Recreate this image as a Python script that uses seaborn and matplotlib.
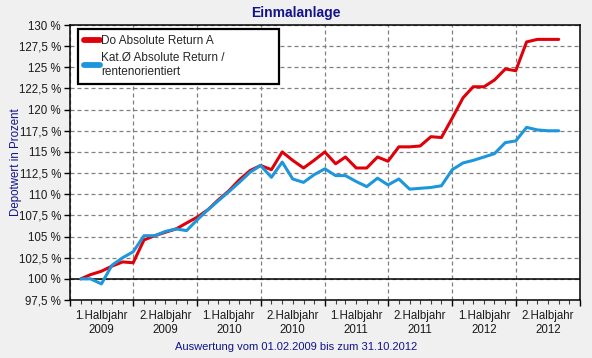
import numpy as np
import pandas as pd
import matplotlib
matplotlib.use("Agg")
import matplotlib.pyplot as plt
import matplotlib.dates as mdates
from matplotlib.ticker import FuncFormatter, FixedLocator
import seaborn as sns

# ---- data -------------------------------------------------------------
start_date = "2009-02-01"
series_names = ["Do Absolute Return A", "Kat.\u00d8 Absolute Return /\nrentenorientiert"]
fund_values = [100.0, 100.5, 100.9, 101.5, 102.0, 101.9, 104.6, 105.1, 105.5, 105.9,
               106.6, 107.3, 108.2, 109.3, 110.4, 111.7, 112.8, 113.4, 112.9, 115.0,
               114.0, 113.1, 114.0, 115.0, 113.6, 114.4, 113.1, 113.1, 114.4, 113.9,
               115.6, 115.6, 115.7, 116.8, 116.7, 119.0, 121.4, 122.7, 122.7, 123.5,
               124.8, 124.6, 128.0, 128.3, 128.3, 128.3]
category_values = [100.0, 100.0, 99.4, 101.6, 102.5, 103.2, 105.1, 105.1, 105.6, 105.9,
                   105.7, 107.0, 108.2, 109.2, 110.3, 111.4, 112.6, 113.4, 112.0, 113.8,
                   111.8, 111.4, 112.3, 113.0, 112.2, 112.2, 111.5, 110.9, 111.9, 111.1,
                   111.8, 110.6, 110.7, 110.8, 111.0, 112.9, 113.7, 114.0, 114.4, 114.8,
                   116.1, 116.3, 117.9, 117.6, 117.5, 117.5]
y_ticks = [97.5, 100, 102.5, 105, 107.5, 110, 112.5, 115, 117.5, 120, 122.5, 125, 127.5, 130]
half_year_labels = ["1.Halbjahr\n2009", "2.Halbjahr\n2009", "1.Halbjahr\n2010", "2.Halbjahr\n2010",
                    "1.Halbjahr\n2011", "2.Halbjahr\n2011", "1.Halbjahr\n2012", "2.Halbjahr\n2012"]
title = "Einmalanlage"
y_label = "Depotwert in Prozent"
x_label = "Auswertung vom 01.02.2009 bis zum 31.10.2012"

dates = pd.date_range(start_date, periods=len(fund_values), freq="MS")
df = pd.DataFrame({
    "Datum": list(dates) * 2,
    "Wert": fund_values + category_values,
    "Serie": [series_names[0]] * len(fund_values) + [series_names[1]] * len(category_values),
})

# ---- style ------------------------------------------------------------
sns.set_theme(style="white")
plt.rcParams["font.family"] = ["Liberation Sans", "DejaVu Sans"]
bg = "#F0F0F0"
navy = "#12128C"
red = "#E0000A"
blue = "#1E96DC"

fig = plt.figure(figsize=(5.92, 3.58), dpi=100, facecolor=bg)
ax = fig.add_axes([70 / 592, 1 - 300 / 358, 510 / 592, 275 / 358])
ax.set_facecolor("white")

sns.lineplot(data=df, x="Datum", y="Wert", hue="Serie", palette=[red, blue],
             linewidth=2.2, ax=ax, legend=True, zorder=3)

ax.axhline(100, color="black", linewidth=1.1, zorder=2)

x0 = pd.Timestamp("2009-01-01")
x1 = pd.Timestamp("2013-01-01")
ax.set_xlim(x0, x1)
ax.set_ylim(97.5, 130)

# y axis
ax.yaxis.set_major_locator(FixedLocator(y_ticks))
ax.yaxis.set_major_formatter(FuncFormatter(
    lambda v, p: (f"{v:.1f}".replace(".", ",") if abs(v - round(v)) > 1e-6 else f"{int(round(v))}") + " %"))

# x axis: half-year boundaries (major) and months (minor)
bounds = pd.date_range(x0, x1, freq="6MS")
ax.xaxis.set_major_locator(FixedLocator(mdates.date2num(bounds)))
ax.xaxis.set_major_formatter(FuncFormatter(lambda v, p: ""))
mids = pd.date_range("2009-04-01", periods=len(half_year_labels), freq="6MS")
mid_nums = mdates.date2num(mids)
months = mdates.date2num(pd.date_range(x0, x1, freq="MS"))
ax.xaxis.set_minor_locator(FixedLocator(months))

def minor_fmt(v, p):
    for n, lab in zip(mid_nums, half_year_labels):
        if abs(v - n) < 1:
            return lab
    return ""
ax.xaxis.set_minor_formatter(FuncFormatter(minor_fmt))

ax.grid(True, which="major", color="#808080", linestyle=(0, (3.2, 2.4)), linewidth=0.9, zorder=1)
ax.tick_params(axis="both", which="major", direction="out", length=4.5, width=1, color="black",
               labelsize=8.3, labelcolor="#1a1a1a", bottom=True, left=True)
ax.tick_params(axis="x", which="minor", direction="out", length=3, width=0.8, color="#404040",
               labelsize=8.3, labelcolor="#1a1a1a", pad=4, bottom=True)
ax.tick_params(axis="y", which="major", pad=2)
for lab in ax.xaxis.get_minorticklabels():
    lab.set_linespacing(1.3)

for s in ax.spines.values():
    s.set_color("black")
    s.set_linewidth(1.1)
    s.set_visible(True)

ax.set_xlabel("")
ax.set_ylabel(y_label, color=navy, fontsize=8.3)
ax.yaxis.set_label_coords(-0.094, 0.5)
fig.text(0.5, 1 - 347 / 358, x_label, ha="center", va="center", color=navy, fontsize=8.0)
fig.text(0.5, 1 - 13 / 358, title, ha="center", va="center", color=navy, fontsize=10,
         fontweight="bold")

leg = ax.legend(loc="upper left", bbox_to_anchor=(8 / 510, 1 - 4 / 275, 201 / 510, 0),
                mode="expand", frameon=True, fancybox=False,
                edgecolor="black", framealpha=1, fontsize=8.5, handlelength=1.35,
                handletextpad=0.12, borderpad=0.5, labelspacing=0.45, borderaxespad=0)
leg.get_frame().set_linewidth(1.6)
for h in leg.get_lines():
    h.set_linewidth(4.2)
    h.set_solid_capstyle("round")
leg.set_zorder(5)

fig.savefig("out.png", dpi=100, facecolor=bg)
